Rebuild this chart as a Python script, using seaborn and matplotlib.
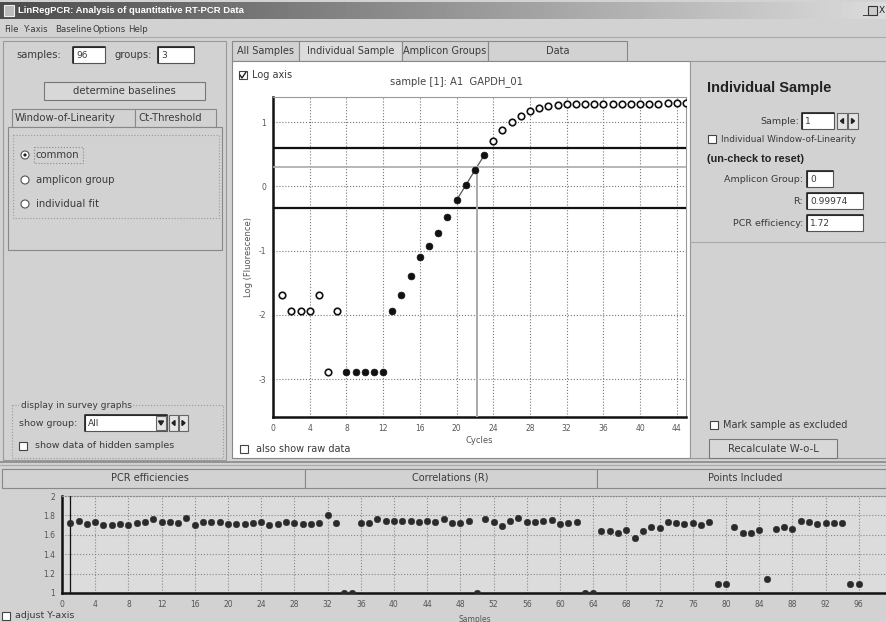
import matplotlib as mpl
mpl.use('agg')
import matplotlib.pyplot as plt
from matplotlib.patches import Rectangle, Circle
import numpy as np
import pandas as pd
import seaborn as sns

# individual sample: log fluorescence per cycle
cycles = list(range(1, 46))
log_fluor = [-1.69, -1.94, -1.94, -1.94, -1.69, -2.89, -1.94,
             -2.89, -2.89, -2.89, -2.89, -2.89,
             -1.94, -1.69, -1.39, -1.10, -0.93, -0.73, -0.47,
             -0.22, 0.02, 0.25, 0.48,
             0.70, 0.87, 1.00, 1.10, 1.17, 1.22, 1.25,
             1.27, 1.28, 1.28, 1.28, 1.28, 1.28, 1.28, 1.28,
             1.28, 1.28, 1.28, 1.28, 1.29, 1.29, 1.29]
filled_cycles = list(range(8, 24))
window_cycles = [20, 21, 22, 23]
upper_limit = 0.60
lower_limit = -0.34
threshold = 0.30
ct_value = 22.2

# survey graph: PCR efficiency per sample
samples = list(range(1, 97))
pcr_eff = [1.717, 1.738, 1.710, 1.728, 1.70, 1.70, 1.71, 1.70, 1.717, 1.734,
           1.762, 1.734, 1.734, 1.724, 1.776, 1.70, 1.734, 1.728, 1.728, 1.71,
           1.71, 1.71, 1.717, 1.728, 1.70, 1.71, 1.728, 1.717, 1.71, 1.71,
           1.724, 1.80, 1.717, 1.0, 1.0, 1.724, 1.724, 1.762, 1.741, 1.745,
           1.745, 1.745, 1.734, 1.745, 1.734, 1.758, 1.717, 1.724, 1.745, 1.0,
           1.758, 1.734, 1.69, 1.741, 1.776, 1.734, 1.734, 1.745, 1.752, 1.71,
           1.717, 1.734, 1.0, 1.0, 1.638, 1.638, 1.614, 1.648, 1.569, 1.638,
           1.679, 1.672, 1.734, 1.717, 1.71, 1.717, 1.697, 1.734, 1.097, 1.09,
           1.679, 1.614, 1.62, 1.648, 1.145, 1.655, 1.679, 1.662, 1.745, 1.734,
           1.71, 1.717, 1.724, 1.724, 1.097, 1.097]
selected_sample = 1

sns.set_style('white')
plt.rcParams['font.family'] = ['DejaVu Sans']
plt.rcParams['axes.unicode_minus'] = False

W, H = 887, 622
fig = plt.figure(figsize=(W / 100, H / 100), dpi=100)
fig.patch.set_facecolor('#d2d2d2')

# --- window chrome, drawn in pixel coordinates ---
ui = fig.add_axes([0, 0, 1, 1], zorder=0)
ui.set_xlim(0, W)
ui.set_ylim(H, 0)
ui.axis('off')

GREY = '#d2d2d2'
TXT = '#3a3a3a'


def box(x0, y0, x1, y1, fc=GREY, ec='#8a8a8a', lw=0.8, ls='-'):
    ui.add_patch(Rectangle((x0, y0), x1 - x0, y1 - y0, fc=fc, ec=ec, lw=lw, ls=ls))


def txt(x, y, s, size=7, ha='left', weight='normal', color=TXT, family=None):
    ui.text(x, y, s, fontsize=size, ha=ha, va='center', weight=weight, color=color,
            family=family or ['DejaVu Sans'])


def field(x0, y0, x1, y1, s):
    box(x0, y0, x1, y1, fc='white', ec='#555555', lw=0.8)
    ui.plot([x0, x0, x1], [y1, y0, y0], color='#222', lw=1.2)
    txt(x0 + 3, (y0 + y1) / 2, s, size=6.5)


def checkbox(x, y, checked=False):
    box(x - 4, y - 4, x + 4, y + 4, fc='white', ec='#444444', lw=0.8)
    if checked:
        ui.plot([x - 3, x - 1, x + 3], [y, y + 3, y - 3], color='#222', lw=1)


def radio(x, y, checked=False):
    ui.add_patch(Circle((x, y), 4, fc='white', ec='#555555', lw=0.8))
    if checked:
        ui.add_patch(Circle((x, y), 1.6, fc='#222', ec='none'))


def arrows(x, y, w=9):
    box(x, y - 8, x + w, y + 8, fc='#e4e4e4', ec='#666')
    box(x + w + 1, y - 8, x + 2 * w + 1, y + 8, fc='#e4e4e4', ec='#666')
    c1, c2 = x + w / 2, x + w + 1 + w / 2
    ui.fill([c1 + 1.5, c1 - 1.5, c1 + 1.5], [y - 2.5, y, y + 2.5], color='#222')
    ui.fill([c2 - 1.5, c2 + 1.5, c2 - 1.5], [y - 2.5, y, y + 2.5], color='#222')


# title bar
grad = np.linspace(0.30, 0.86, 256)[None, :]
ui.imshow(grad, cmap='gray', vmin=0, vmax=1, extent=[0, W, 19, 2], aspect='auto', zorder=0)
box(4, 5, 14, 16, fc='#bbbbbb', ec='#eeeeee')
txt(18, 10.5, 'LinRegPCR: Analysis of quantitative RT-PCR Data', size=6.8,
    weight='bold', color='white', family=['Liberation Sans'])
txt(862, 10.5, '_', size=7, color='#222')
box(868, 6, 877, 15, fc='#cccccc', ec='#333')
txt(879, 10.5, 'X', size=6.5, color='#222')

# menu
for x, s in [(4, 'File'), (24, 'Y-axis'), (55, 'Baseline'), (93, 'Options'), (128, 'Help')]:
    txt(x, 29, s, size=6.2)
ui.plot([0, W], [37, 37], color='#aaaaaa', lw=0.8)

# left panel
box(3, 41, 226, 460, fc=GREY, ec='#9a9a9a')
txt(16, 55, 'samples:', size=7.2)
field(73, 47, 105, 63, '96')
txt(115, 55, 'groups:', size=7.2)
field(158, 47, 194, 63, '3')
box(44, 82, 205, 100, fc='#d8d8d8', ec='#777777')
txt(124, 91, 'determine baselines', size=7.3, ha='center')
box(12, 109, 135, 127, fc=GREY, ec='#888')
txt(15, 118, 'Window-of-Linearity', size=7.3)
box(135, 109, 216, 127, fc=GREY, ec='#888')
txt(138, 118, 'Ct-Threshold', size=7.3)
box(8, 127, 222, 250, fc=GREY, ec='#888')
box(13, 135, 219, 218, fc=GREY, ec='#999', ls=':')
radio(25, 155, True)
box(34, 147, 83, 163, fc=GREY, ec='#888', ls=':')
txt(36, 155, 'common', size=7.3)
radio(25, 180)
txt(36, 180, 'amplicon group', size=7.3)
radio(25, 204)
txt(36, 204, 'individual fit', size=7.3)

box(12, 405, 223, 458, fc=GREY, ec='#999', ls=':')
box(19, 400, 133, 410, fc=GREY, ec='none')
txt(21, 406, 'display in survey graphs', size=6.5)
txt(19, 423, 'show group:', size=6.8)
field(85, 415, 167, 431, 'All')
box(156, 416, 166, 430, fc='#e4e4e4', ec='#666')
ui.fill([158.5, 163.5, 161], [421, 421, 425], color='#222')
arrows(169, 423)
checkbox(23, 446)
txt(35, 446, 'show data of hidden samples', size=6.8)

# centre tabs and panel
for x0, x1, s in [(232, 299, 'All Samples'), (299, 402, 'Individual Sample'),
                  (402, 488, 'Amplicon Groups'), (488, 627, 'Data')]:
    box(x0, 41, x1, 61, fc='#dcdcdc' if s == 'Individual Sample' else GREY, ec='#888')
    txt((x0 + x1) / 2, 51, s, size=7, ha='center')
box(232, 61, 690, 458, fc='white', ec='#888')
checkbox(243, 75, True)
txt(252, 75, 'Log axis', size=7)
checkbox(244, 449)
txt(256, 449, 'also show raw data', size=7)

# right panel
box(690, 61, 886, 458, fc=GREY, ec='#999')
txt(707, 88, 'Individual Sample', size=10.5, weight='bold', color='#222',
    family=['Liberation Sans'])
txt(799, 121, 'Sample:', size=6.8, ha='right')
field(802, 113, 834, 129, '1')
arrows(837, 121, w=10)
checkbox(712, 139)
txt(721, 139, 'Individual Window-of-Linearity', size=6.4)
txt(707, 159, '(un-check to reset)', size=7.8, weight='bold', color='#222',
    family=['Liberation Sans'])
txt(803, 179, 'Amplicon Group:', size=6.8, ha='right')
field(807, 171, 833, 187, '0')
txt(803, 201, 'R:', size=6.8, ha='right')
field(807, 193, 863, 209, '0.99974')
txt(803, 223, 'PCR efficiency:', size=6.8, ha='right')
field(807, 215, 863, 231, '1.72')
ui.plot([690, 886], [242, 242], color='#aaa', lw=0.8)
checkbox(714, 425)
txt(723, 425, 'Mark sample as excluded', size=7)
box(709, 439, 837, 458, fc='#d8d8d8', ec='#777')
txt(773, 448.5, 'Recalculate W-o-L', size=7.3, ha='center')

# bottom tabs
ui.plot([0, W], [462, 462], color='#888', lw=1.2)
ui.plot([0, W], [465, 465], color='#aaa', lw=0.8)
box(2, 469, 305, 488, fc=GREY, ec='#888')
box(305, 469, 597, 488, fc=GREY, ec='#888')
box(597, 469, 886, 488, fc=GREY, ec='#888')
txt(150, 478, 'PCR efficiencies', size=7, ha='center')
txt(450, 478, 'Correlations (R)', size=7, ha='center')
txt(745, 478, 'Points Included', size=7, ha='center')
checkbox(6, 616)
txt(15, 616, 'adjust Y-axis', size=6.8)

# --- individual sample amplification plot ---
df = pd.DataFrame({'cycle': cycles, 'logF': log_fluor})
df['filled'] = df['cycle'].isin(filled_cycles)

ax = fig.add_axes([273 / W, 1 - 417 / H, 413 / W, 320 / H], zorder=2)
ax.set_facecolor('white')
sns.scatterplot(data=df[~df['filled']], x='cycle', y='logF', ax=ax, s=22,
                facecolor='white', edgecolor='#111', linewidth=1.2, zorder=4, legend=False)
sns.scatterplot(data=df[df['filled']], x='cycle', y='logF', ax=ax, s=24,
                color='#111', edgecolor='#111', linewidth=0.5, zorder=4, legend=False)
win = df[df['cycle'].isin(window_cycles)]
k, b = np.polyfit(win['cycle'], win['logF'], 1)
fit = pd.DataFrame({'cycle': [window_cycles[0], window_cycles[-1]]})
fit['logF'] = k * fit['cycle'] + b
sns.lineplot(data=fit, x='cycle', y='logF', ax=ax, color='#555', lw=0.9, zorder=3)
ax.axhline(upper_limit, color='#111', lw=1.6, zorder=3)
ax.axhline(lower_limit, color='#111', lw=1.6, zorder=3)
ax.axhline(threshold, color='#aaaaaa', lw=1.2, zorder=3)
ax.plot([ct_value, ct_value], [-3.59, threshold], color='#aaaaaa', lw=1.4, zorder=3)
ax.set_xlim(0, 45)
ax.set_ylim(-3.59, 1.39)
ax.set_xticks(range(0, 45, 4))
ax.set_yticks([-3, -2, -1, 0, 1])
ax.grid(True, linestyle=':', color='#777', lw=0.8)
ax.tick_params(length=0, labelsize=5.5, labelcolor='#555', pad=5)
for s in ['left', 'bottom']:
    ax.spines[s].set_color('#111')
    ax.spines[s].set_linewidth(1.8)
for s in ['top', 'right']:
    ax.spines[s].set_color('#999')
    ax.spines[s].set_linewidth(0.8)
ax.set_xlabel('Cycles', fontsize=6, color='#555', labelpad=2)
ax.set_ylabel('Log (Fluorescence)', fontsize=6, color='#555', labelpad=4)
ax.text(0.445, 1.03, 'sample [1]: A1  GAPDH_01', transform=ax.transAxes,
        fontsize=7.2, color='#444', ha='center', va='bottom')

# --- survey graph: PCR efficiencies ---
eff = pd.DataFrame({'sample': samples, 'eff': pcr_eff})
ax2 = fig.add_axes([62 / W, 1 - 593 / H, (W - 62) / W, 97 / H], zorder=2)
ax2.set_facecolor('#dcdcdc')
sns.scatterplot(data=eff, x='sample', y='eff', ax=ax2, s=22, color='#2a2a2a',
                edgecolor='#2a2a2a', zorder=4, legend=False)
ax2.plot([selected_sample, selected_sample], [1, 2], color='#111', lw=0.9, zorder=3)
ax2.set_xlim(0, 99.4)
ax2.set_ylim(1, 2)
ax2.set_xticks(range(0, 97, 4))
ax2.set_yticks([1, 1.2, 1.4, 1.6, 1.8, 2])
ax2.set_yticklabels(['1', '1.2', '1.4', '1.6', '1.8', '2'])
ax2.grid(True, linestyle=':', color='#888', lw=0.8)
ax2.tick_params(length=0, labelsize=5.5, labelcolor='#555', pad=5)
for s in ['left', 'bottom']:
    ax2.spines[s].set_color('#111')
    ax2.spines[s].set_linewidth(1.8)
ax2.spines['top'].set_color('#888')
ax2.spines['top'].set_linestyle(':')
ax2.spines['right'].set_visible(False)
ax2.set_xlabel('Samples', fontsize=5.5, color='#555', labelpad=4)
ax2.set_ylabel('')

fig.savefig('out.png', dpi=100, facecolor=fig.get_facecolor())
